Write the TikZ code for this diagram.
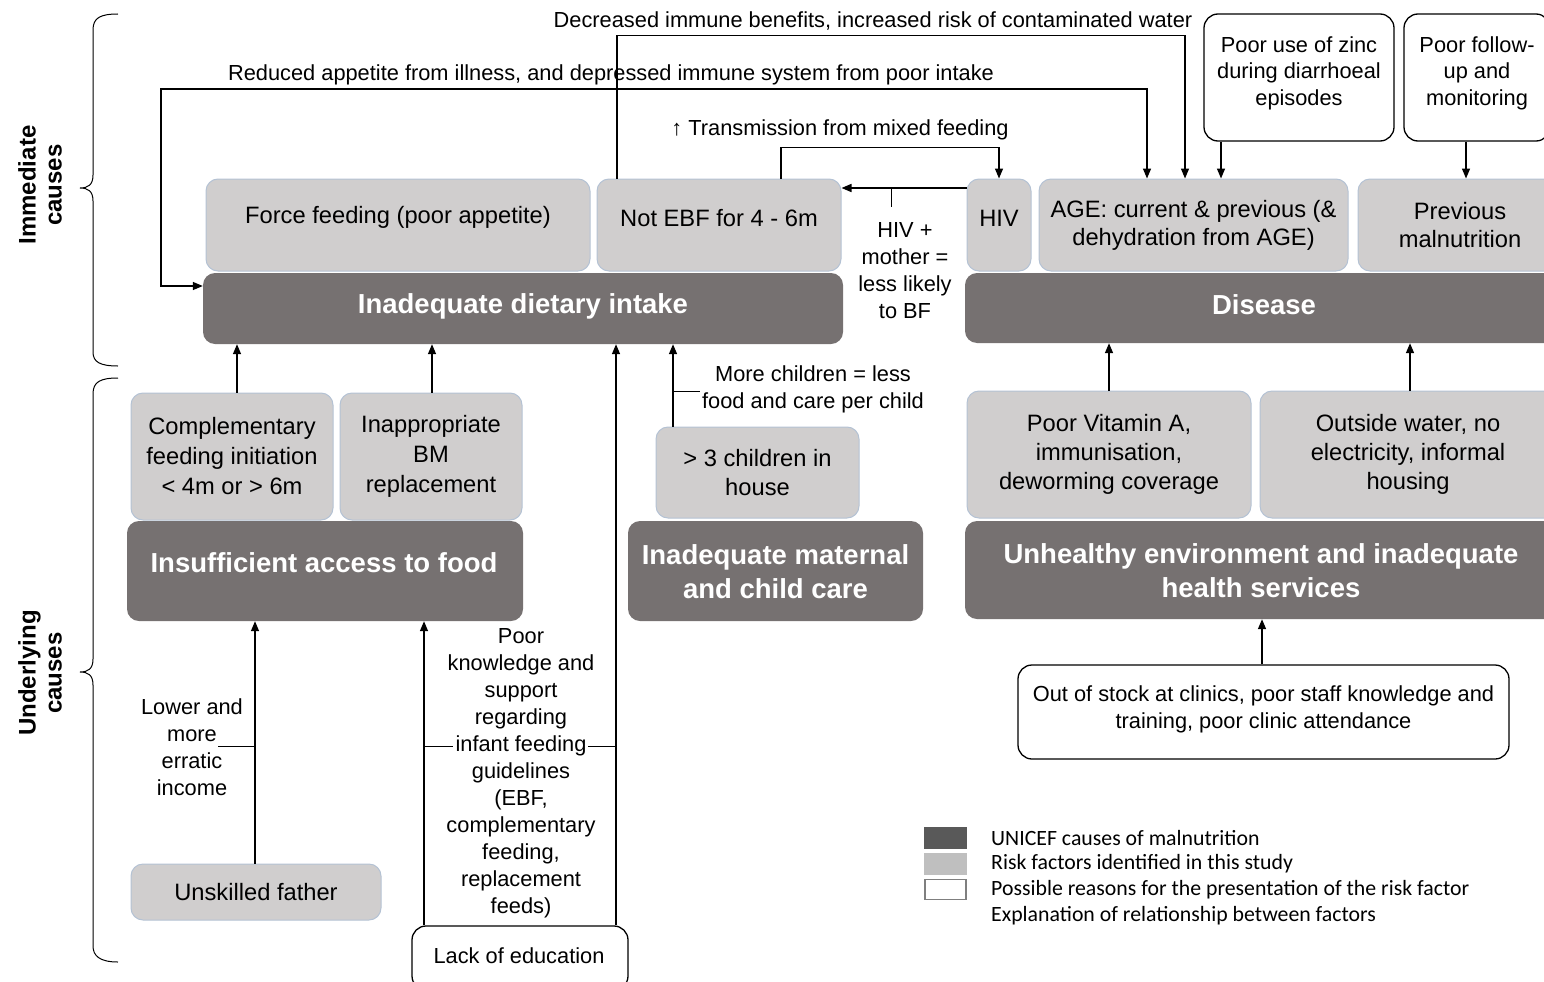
\documentclass[tikz,border=0pt]{standalone}
\usepackage{fontspec}
\setmainfont{Liberation Sans}
\newfontfamily\legfont{Carlito}
\usetikzlibrary{arrows.meta}
\definecolor{darkbox}{HTML}{767171}
\definecolor{lightbox}{HTML}{D0CECE}
\definecolor{lightedge}{HTML}{B4C2D4}
\definecolor{legdark}{HTML}{595959}
\definecolor{leglight}{HTML}{BFBFBF}
\definecolor{legedge}{HTML}{7F7F7F}
\begin{document}
\begin{tikzpicture}[x=1pt,y=-1pt,
 sz/.style 2 args={minimum width=#1pt, minimum height=#2pt},
 txt/.style={font=\fontsize{21.8}{27}\selectfont, align=center, inner sep=0pt},
 ltxt/.style={font=\fontsize{23.7}{29}\selectfont, align=center, inner sep=0pt},
 lbox/.style={draw=lightedge, fill=lightbox, rounded corners=12pt, line width=1pt, inner sep=0pt, font=\fontsize{23.7}{29}\selectfont, align=center},
 dbox/.style={fill=darkbox, rounded corners=12pt, inner sep=0pt},
 wbox/.style={draw=black, fill=white, rounded corners=14pt, line width=1.3pt, inner sep=0pt, font=\fontsize{21.8}{27}\selectfont, align=center},
 dtxt/.style={font=\bfseries\fontsize{27.5}{34}\selectfont, text=white, align=center, inner sep=0pt},
 side/.style={font=\bfseries\fontsize{24}{26}\selectfont, align=center, inner sep=0pt, rotate=90},
 legtxt/.style={font=\legfont\fontsize{21.8}{26}\selectfont, inner sep=0pt, anchor=west},
 arr/.style={-{Triangle[length=10pt,width=8pt]}, line width=1.5pt},
 biarr/.style={{Triangle[length=10pt,width=8pt]}-{Triangle[length=10pt,width=8pt]}, line width=1.5pt},
 tick/.style={line width=0.9pt},
]
\clip (0,0) rectangle (1544,982);

% side labels and braces
\node[side] (imm) at (40,185) {Immediate\\causes};
\node[side] (und) at (40,673) {Underlying\\causes};
\draw[line width=1pt] (118,14) .. controls (100,14) and (93,18) .. (93,30) -- (93,175) .. controls (93,185) and (88,188) .. (80,188) .. controls (88,188) and (93,191) .. (93,201) -- (93,352) .. controls (93,362) and (100,366) .. (118,366);
\draw[line width=1pt] (118,378) .. controls (100,378) and (93,382) .. (93,394) -- (93,659) .. controls (93,669) and (88,672) .. (80,672) .. controls (88,672) and (93,675) .. (93,685) -- (93,946) .. controls (93,956) and (100,962) .. (118,962);

% light boxes (risk factors)
\node[lbox, sz={384}{92}] (ff) at (398,225) {};
\node[ltxt] (fft) at (398,217) {Force feeding (poor appetite)};
\node[lbox, sz={244}{92}] (ebf) at (719,225) {};
\node[ltxt] (ebft) at (719,218) {Not EBF for 4 - 6m};
\node[lbox, sz={64}{92}] (hiv) at (999,225) {};
\node[ltxt] (hivt) at (999,218) {HIV};
\node[lbox, sz={309}{92}, font=\fontsize{23.7}{28}\selectfont] (age) at (1193.5,225) {AGE: current \& previous (\&\\dehydration from AGE)};
\node[lbox, sz={204}{92}, font=\fontsize{23.7}{28}\selectfont] (prev) at (1460,225) {Previous\\malnutrition};
\node[lbox, sz={202}{127}, font=\fontsize{23.7}{30}\selectfont] (comp) at (232,456.5) {Complementary\\feeding initiation\\< 4m or > 6m};
\node[lbox, sz={182}{127}, font=\fontsize{23.7}{30}\selectfont] (bm) at (431,456.5) {Inappropriate\\BM\\replacement};
\node[lbox, sz={203}{91}] (kids) at (757.5,472.5) {> 3 children in\\house};
\node[lbox, sz={284}{127}] (vita) at (1109,454.5) {Poor Vitamin A,\\immunisation,\\deworming coverage};
\node[lbox, sz={296}{127}] (water) at (1408,454.5) {Outside water, no\\electricity, informal\\housing};
\node[lbox, sz={250}{56}] (father) at (256,892) {Unskilled father};

% dark boxes (UNICEF causes)
\node[dbox, sz={640}{71}] (intake) at (523,308.5) {};
\node[dtxt] (intaket) at (523,306) {Inadequate dietary intake};
\node[dbox, sz={598}{70}] (disease) at (1264,308) {};
\node[dtxt] (diseaset) at (1264,305) {Disease};
\node[dbox, sz={396}{100}] (access) at (325,571) {};
\node[dtxt] (accesst) at (324,563) {Insufficient access to food};
\node[dbox, sz={295}{100}] (care) at (775.5,571) {};
\node[dtxt] (caret) at (775.5,572) {Inadequate maternal\\and child care};
\node[dbox, sz={592}{98}] (env) at (1261,570) {};
\node[dtxt] (envt) at (1261,571) {Unhealthy environment and inadequate\\health services};

% white boxes (possible reasons)
\node[wbox, sz={190}{127}] (zinc) at (1299,77.5) {};
\node[txt, font=\fontsize{21.8}{26.5}\selectfont] (zinct) at (1299,73) {Poor use of zinc\\during diarrhoeal\\episodes};
\node[wbox, sz={146}{127}] (follow) at (1477,77.5) {};
\node[txt, font=\fontsize{21.8}{26.5}\selectfont] (followt) at (1477,73) {Poor follow-\\up and\\monitoring};
\node[wbox, sz={491}{94}] (stock) at (1263.5,712) {};
\node[txt] (stockt) at (1263.5,709) {Out of stock at clinics, poor staff knowledge and\\training, poor clinic attendance};
\node[wbox, sz={216}{64}] (edu) at (520,958) {};
\node[txt] (edut) at (519,956) {Lack of education};

% relationship labels
\node[txt] (declab) at (873,21) {Decreased immune benefits, increased risk of contaminated water};
\node[txt] (redlab) at (611,75) {Reduced appetite from illness, and depressed immune system from poor intake};
\node[txt] (translab) at (840,130) {\textuparrow{} Transmission from mixed feeding};
\node[txt] (hivlab) at (905,271) {HIV +\\mother =\\less likely\\to BF};
\node[txt] (kidlab) at (813,389.5) {More children = less\\food and care per child};
\node[txt] (inclab) at (192,747) {Lower and\\more\\erratic\\income};
\node[txt] (knowlab) at (521,773) {Poor\\knowledge and\\support\\regarding\\infant feeding\\guidelines\\(EBF,\\complementary\\feeding,\\replacement\\feeds)};

% top connectors
\draw[arr] ([xshift=-102]ebf.north) -- ++(0,-143) -| ([xshift=-8.5]age.north);
\coordinate (ra) at (161,89);
\draw[biarr] ([xshift=-46.5]age.north) |- (ra) |- ([yshift=22.5]intake.west);
\coordinate (z1) at ([xshift=-78]zinc.south);
\draw[arr] (z1) -- (z1 |- age.north);
\coordinate (f1) at ([xshift=-11]follow.south);
\draw[arr] (f1) -- (f1 |- prev.north);
\draw[arr] ([xshift=62]ebf.north) -- ++(0,-31) -| (hiv.north);
\coordinate (h1) at ([yshift=37]hiv.west);
\draw[arr] (h1) -- (h1 -| ebf.east);
\coordinate (t1) at (891,188);
\draw[tick] (t1) -- ++(0,19);

% lower connectors
\coordinate (c1) at ([xshift=5]comp.north);
\draw[arr] (c1) -- (c1 |- intake.south);
\coordinate (b1) at ([xshift=1]bm.north);
\draw[arr] (b1) -- (b1 |- intake.south);
\coordinate (kd) at ([xshift=-84.5]kids.north);
\draw[arr] (kd) -- (kd |- intake.south);
\coordinate (kt) at (700,391);
\draw[tick] (kt -| kd) -- (kt);
\coordinate (e1) at ([xshift=-96]edu.north);
\coordinate (e2) at ([xshift=96]edu.north);
\draw[arr] (e1) -- (e1 |- access.south);
\draw[arr] (e2) -- (e2 |- intake.south);
\coordinate (k1) at (453,746);
\coordinate (k2) at (588,746);
\draw[tick] (e1 |- k1) -- (k1);
\draw[tick] (k2) -- (k2 -| e2);
\coordinate (fa) at ([xshift=-1]father.north);
\draw[arr] (fa) -- (fa |- access.south);
\coordinate (inc) at (218,746);
\draw[tick] (inc) -- (inc -| fa);
\draw[arr] (vita.north) -- (vita.north |- disease.south);
\coordinate (wa) at ([xshift=2]water.north);
\draw[arr] (wa) -- (wa |- disease.south);
\coordinate (s1) at ([xshift=-1.5]stock.north);
\draw[arr] (s1) -- (s1 |- env.south);

% legend
\node[fill=legdark, sz={43}{22}, inner sep=0pt] (lg1) at (945.5,838) {};
\node[fill=leglight, sz={43}{22}, inner sep=0pt] (lg2) at (945.5,863.5) {};
\node[draw=legedge, fill=white, line width=1.5pt, sz={41}{20}, inner sep=0pt] (lg3) at (945.5,889.5) {};
\node[legtxt] (lt1) at (991,838) {UNICEF causes of malnutrition};
\node[legtxt] (lt2) at (991,864) {Risk factors identified in this study};
\node[legtxt] (lt3) at (991,890) {Possible reasons for the presentation of the risk factor};
\node[legtxt] (lt4) at (991,916) {Explanation of relationship between factors};
\end{tikzpicture}
\end{document}
